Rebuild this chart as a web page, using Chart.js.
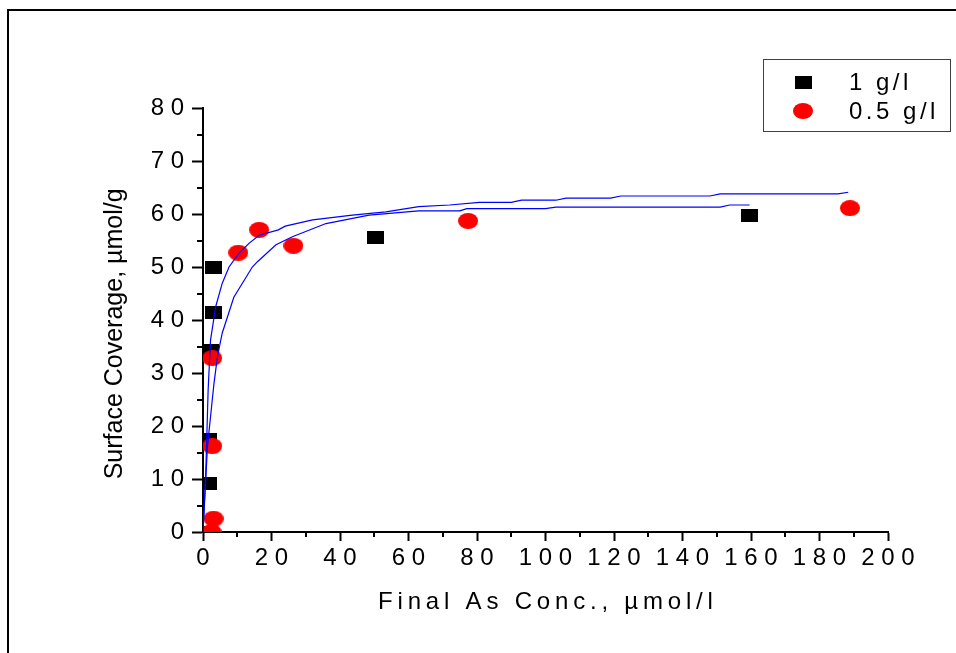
<!DOCTYPE html>
<html>
<head>
<meta charset="utf-8">
<title>Surface Coverage vs Final As Conc.</title>
<script src="https://cdn.jsdelivr.net/npm/chart.js@4.4.1/dist/chart.umd.min.js"></script>
<style>
  html, body { margin: 0; padding: 0; background: #fff; }
  canvas { display: block; }
</style>
</head>
<body>
<canvas id="isotherm" width="956" height="653"></canvas>
<script>
  "use strict";

  // measured points, x = final As conc. (µmol/l), y = surface coverage (µmol/g)
  const dose1X = [1.5, 1.6, 1.6, 2.1, 3.1, 3.1, 50.5, 159.6];
  const dose1Y = [0.0, 9.2, 17.4, 34.3, 41.4, 50.0, 55.6, 59.8];

  const dose05X = [2.5, 3.1, 2.7, 2.7, 10.3, 16.4, 26.4, 77.4, 188.9];
  const dose05Y = [0.0, 2.5, 16.2, 32.8, 52.7, 57.0, 54.0, 58.7, 61.1];

  // fitted curves as traced
  const fitAX = [0, 0.8, 1.5, 2.2, 3.7, 5.6, 7.6, 10.5, 13.5, 16.4, 22, 24, 32, 43.6, 53.4, 63, 72, 80.7, 90, 93, 103, 106, 119, 122, 148, 151, 185.4, 188.4];
  const fitAY = [0, 11, 26.8, 36.2, 42.5, 46.9, 50, 52.6, 54.5, 56, 57, 57.7, 58.9, 59.8, 60.4, 61.4, 61.7, 62.2, 62.2, 62.6, 62.6, 63, 63, 63.4, 63.4, 63.8, 63.8, 64.1];

  const fitBX = [0, 1.3, 2.7, 3.2, 4.2, 5.6, 9, 14.4, 15.9, 21.3, 26.1, 35.9, 48.5, 63, 75, 77, 100, 103, 151, 153.8, 159.6];
  const fitBY = [0, 16.1, 24.9, 28, 33, 37.5, 44.3, 50, 51, 54.2, 55.7, 58.2, 59.8, 60.6, 60.6, 61.0, 61.0, 61.3, 61.3, 61.7, 61.7];

  const legendLabels = ["1 g/l", "0.5 g/l"];
  const xTitle = "Final As Conc., µmol/l";
  const yTitle = "Surface Coverage, µmol/g";

  function pairs(xs, ys) {
    return xs.map(function (x, i) { return { x: x, y: ys[i] }; });
  }

  function markerCanvas(w, h, paint) {
    const c = document.createElement("canvas");
    c.width = w;
    c.height = h;
    paint(c.getContext("2d"), w, h);
    return c;
  }

  const squareMark = markerCanvas(17, 13, function (g, w, h) {
    g.fillStyle = "#000000";
    g.fillRect(0, 0, w, h);
  });

  const dotMark = markerCanvas(20, 16, function (g, w, h) {
    g.fillStyle = "#ff0000";
    g.beginPath();
    g.ellipse(w / 2, h / 2, w / 2, h / 2, 0, 0, Math.PI * 2);
    g.fill();
  });

  function spaced(text, gap) {
    return text.split("").join(gap);
  }

  // white page with the open frame line at top and left
  const pageFrame = {
    id: "pageFrame",
    beforeDraw: function (chart) {
      const ctx = chart.ctx;
      ctx.save();
      ctx.fillStyle = "#ffffff";
      ctx.fillRect(0, 0, chart.width, chart.height);
      ctx.strokeStyle = "#000000";
      ctx.lineWidth = 2;
      ctx.beginPath();
      ctx.moveTo(8, chart.height);
      ctx.lineTo(8, 10);
      ctx.lineTo(chart.width, 10);
      ctx.stroke();
      ctx.restore();
    }
  };

  // short unlabelled ticks halfway between the major ones
  const minorTicks = {
    id: "minorTicks",
    afterDraw: function (chart) {
      const ctx = chart.ctx;
      const xs = chart.scales.x;
      const ys = chart.scales.y;
      const area = chart.chartArea;
      ctx.save();
      ctx.strokeStyle = "#000000";
      ctx.lineWidth = 2;
      ctx.beginPath();
      for (let v = 10; v < 200; v += 20) {
        const px = Math.round(xs.getPixelForValue(v));
        ctx.moveTo(px, area.bottom);
        ctx.lineTo(px, area.bottom + 5);
      }
      for (let v = 5; v < 80; v += 10) {
        const py = Math.round(ys.getPixelForValue(v));
        ctx.moveTo(area.left - 6, py);
        ctx.lineTo(area.left, py);
      }
      ctx.stroke();
      ctx.restore();
    }
  };

  // boxed legend in the top right corner
  const boxLegend = {
    id: "boxLegend",
    afterDraw: function (chart) {
      const ctx = chart.ctx;
      const marks = [squareMark, dotMark];
      ctx.save();
      ctx.strokeStyle = "#404040";
      ctx.lineWidth = 1;
      ctx.strokeRect(763.5, 59.5, 187, 72);
      ctx.fillStyle = "#000000";
      ctx.font = "24px 'Liberation Sans', Arial, sans-serif";
      ctx.textBaseline = "middle";
      ctx.textAlign = "left";
      if ("letterSpacing" in ctx) ctx.letterSpacing = "3.5px";
      legendLabels.forEach(function (label, i) {
        const cy = 82 + i * 29;
        const m = marks[i];
        ctx.drawImage(m, 803 - m.width / 2, cy - m.height / 2);
        ctx.fillText(label, 849, cy + 1);
      });
      ctx.restore();
    }
  };

  Chart.defaults.font.family = "'Liberation Sans', Arial, sans-serif";
  Chart.defaults.color = "#000000";

  new Chart(document.getElementById("isotherm"), {
    type: "scatter",
    data: {
      datasets: [
        {
          label: "fit A",
          data: pairs(fitAX, fitAY),
          showLine: true,
          borderColor: "#0000ff",
          borderWidth: 1.2,
          pointRadius: 0,
          tension: 0,
          order: 0
        },
        {
          label: "fit B",
          data: pairs(fitBX, fitBY),
          showLine: true,
          borderColor: "#0000ff",
          borderWidth: 1.2,
          pointRadius: 0,
          tension: 0,
          order: 0
        },
        {
          label: legendLabels[1],
          data: pairs(dose05X, dose05Y),
          pointStyle: dotMark,
          pointRadius: 9,
          clip: 0,
          order: 1
        },
        {
          label: legendLabels[0],
          data: pairs(dose1X, dose1Y),
          pointStyle: squareMark,
          pointRadius: 8,
          clip: 0,
          order: 2
        }
      ]
    },
    options: {
      responsive: false,
      animation: false,
      layout: { padding: { left: 0, right: 68, top: 108, bottom: 0 } },
      plugins: {
        legend: { display: false },
        tooltip: { enabled: false }
      },
      scales: {
        x: {
          type: "linear",
          min: 0,
          max: 200,
          afterFit: function (scale) { scale.height = 121; },
          ticks: {
            stepSize: 20,
            padding: 3,
            maxRotation: 0,
            font: { size: 24 },
            color: "#000000",
            callback: function (v) { return spaced(String(v), " "); }
          },
          grid: {
            drawOnChartArea: false,
            drawTicks: true,
            tickLength: 9,
            tickWidth: 2,
            color: "#000000"
          },
          border: { display: true, width: 2, color: "#000000" },
          title: {
            display: true,
            text: spaced(xTitle, "\u2009"),
            font: { size: 24 },
            color: "#000000",
            padding: { top: 0, bottom: 36 }
          }
        },
        y: {
          type: "linear",
          min: 0,
          max: 80,
          afterFit: function (scale) { scale.width = 203; },
          ticks: {
            stepSize: 10,
            padding: 8,
            font: { size: 24 },
            color: "#000000",
            callback: function (v) { return spaced(String(v), " "); }
          },
          grid: {
            drawOnChartArea: false,
            drawTicks: true,
            tickLength: 11,
            tickWidth: 2,
            color: "#000000"
          },
          border: { display: true, width: 2, color: "#000000" },
          title: {
            display: true,
            // trailing spaces push the rotated title a little below the axis centre
            text: yTitle + "    ",
            font: { size: 25 },
            color: "#000000",
            padding: { top: 100, bottom: 0 }
          }
        }
      }
    },
    plugins: [pageFrame, minorTicks, boxLegend]
  });
</script>
</body>
</html>
